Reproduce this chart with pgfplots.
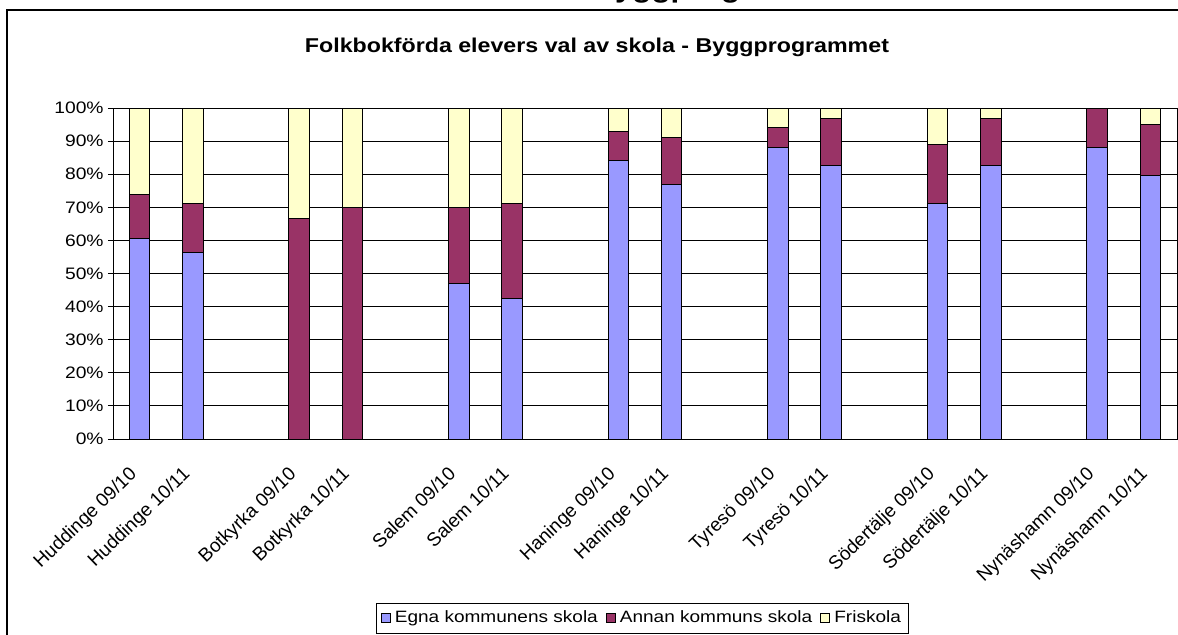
\documentclass[border=0pt]{standalone}
\usepackage{pgfplots}
\pgfplotsset{compat=1.18}
\usepackage{pgfplotstable}
\usepackage{fontspec}
\setmainfont[FakeStretch=1.16]{Liberation Sans}
\newfontfamily\labelfont{Liberation Sans}

\definecolor{egna}{HTML}{9999FF}
\definecolor{annan}{HTML}{993366}
\definecolor{fri}{HTML}{FFFFCC}

% andel i procent; x = kategoriplats (tomma platser mellan kommunerna)
\pgfplotstableread{
x  egna annan fri
0  60.6 13.4 26.0
1  56.2 15.1 28.7
3  0.0  66.7 33.3
4  0.0  70.0 30.0
6  46.9 23.0 30.1
7  42.6 28.7 28.7
9  84.0  9.0  7.0
10 77.0 14.1  8.9
12 88.0  6.2  5.8
13 82.7 14.2  3.1
15 71.3 17.6 11.1
16 82.7 14.2  3.1
18 88.0 12.0  0.0
19 79.7 15.3  5.0
}\data

\begin{document}
\begin{tikzpicture}
\useasboundingbox (0,0) rectangle (589pt,317pt);
\clip (0,0) rectangle (589pt,317pt);
\draw[line width=1pt] (3.5pt,-20pt) rectangle (620pt,312pt);
\node[anchor=base west, inner sep=0pt, font=\bfseries\fontsize{13.5}{16}\selectfont] at (296pt,318.4pt) {Byggprogrammet};
\node[font=\bfseries\fontsize{10}{12}\selectfont] at (298.5pt,293.5pt) {Folkbokförda elevers val av skola - Byggprogrammet};

\begin{axis}[
  at={(56.5pt,97.5pt)}, anchor=south west,
  scale only axis, width=532pt, height=165.5pt,
  ybar stacked, bar width=0.39,
  xmin=-0.5, xmax=19.5, ymin=0, ymax=100,
  axis line style={black, line width=0.5pt},
  ytick={0,10,...,100},
  yticklabel={\pgfmathprintnumber{\tick}\%},
  /pgf/number format/assume math mode=true,
  ymajorgrids, grid style={black, line width=0.5pt},
  xtick={0,1,3,4,6,7,9,10,12,13,15,16,18,19},
  xticklabels={Huddinge 09/10, Huddinge 10/11, Botkyrka 09/10, Botkyrka 10/11,
    Salem 09/10, Salem 10/11, Haninge 09/10, Haninge 10/11,
    Tyresö 09/10, Tyresö 10/11, Södertälje 09/10, Södertälje 10/11,
    Nynäshamn 09/10, Nynäshamn 10/11},
  xtick style={draw=none},
  minor xtick={-0.5,0.5,...,19.5},
  tick align=outside, major tick length=2.5pt, minor tick length=2.5pt,
  ytick style={black, line width=0.5pt},
  minor tick style={black, line width=0.5pt},
  yticklabel style={font=\fontsize{8.3}{10}\selectfont, inner sep=2pt},
  xticklabel style={font=\labelfont\fontsize{9.5}{11}\selectfont,
    rotate=44, anchor=north east, inner sep=1pt, yshift=-2.5pt, xshift=-10.5pt},
  legend columns=3,
  legend style={at={(0.498,-0.494)}, anchor=north, draw=black, line width=0.5pt,
    font=\fontsize{8.2}{10}\selectfont, inner sep=2pt,
    /tikz/every even column/.append style={column sep=2pt}},
  legend image code/.code={\draw[#1, line width=0.5pt] (0pt,-2.25pt) rectangle (4.5pt,2.25pt);},
]
\addplot[fill=egna, draw=black, line width=0.5pt] table[x=x, y=egna] {\data};
\addlegendentry{Egna kommunens skola}
\addplot[fill=annan, draw=black, line width=0.5pt] table[x=x, y=annan] {\data};
\addlegendentry{Annan kommuns skola}
\addplot[fill=fri, draw=black, line width=0.5pt] table[x=x, y=fri] {\data};
\addlegendentry{Friskola}
\end{axis}
\end{tikzpicture}
\end{document}
